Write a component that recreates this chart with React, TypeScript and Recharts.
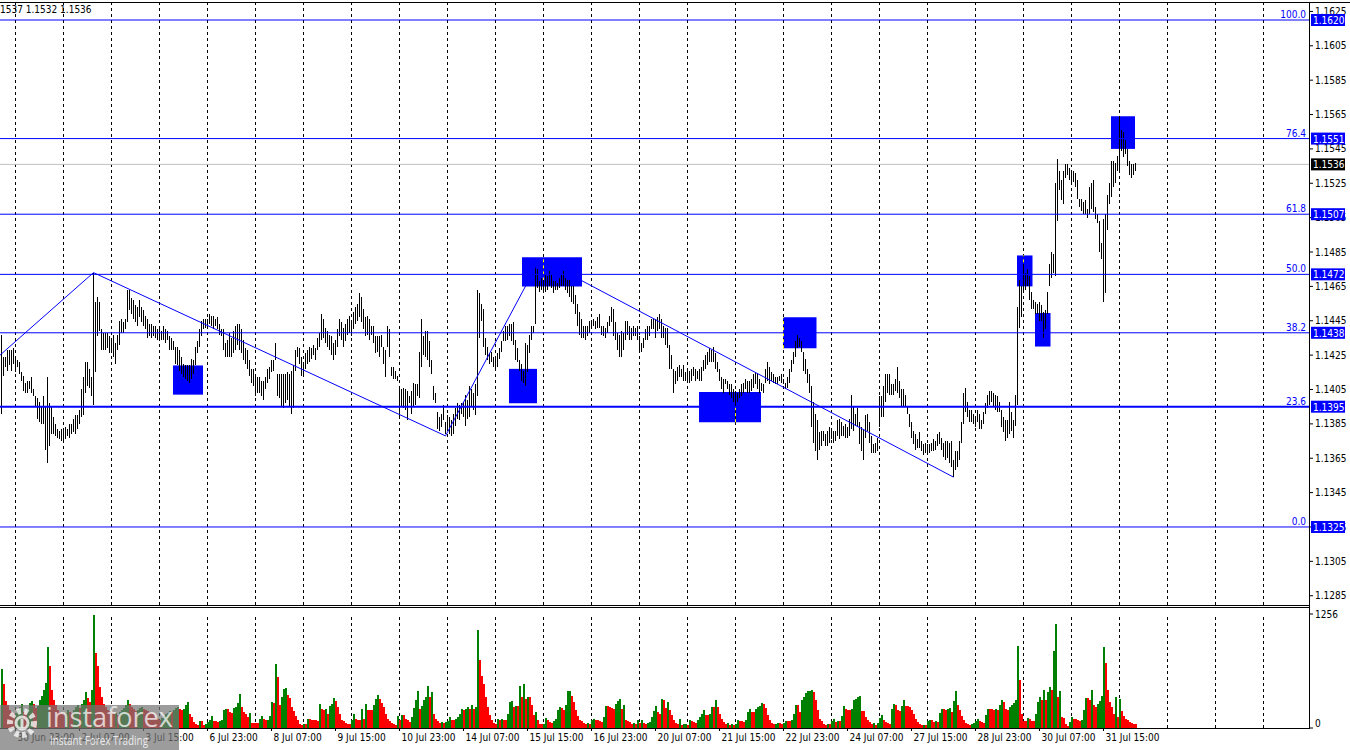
import React from 'react';
import { ComposedChart, Bar, XAxis, YAxis, ReferenceLine, ReferenceArea } from 'recharts';

const FONT = "'DejaVu Sans Condensed', 'DejaVu Sans', sans-serif";

// hourly bar highs
const highs = [
1.1437,1.1424,1.1424,1.1428,1.1428,1.1428,1.1429,1.1424,1.1422,1.1421,1.1415,1.1413,1.1409,1.1410,1.1410,1.1412,1.1405,1.1401,1.1400,1.1398,
1.1395,1.1401,1.1395,1.1412,1.1397,1.1395,1.1389,1.1385,1.1382,1.1381,1.1382,1.1381,1.1383,1.1382,1.1385,1.1385,1.1388,1.1390,1.1390,1.1393,
1.1405,1.1412,1.1421,1.1421,1.1417,1.1412,1.1473,1.1456,1.1459,1.1456,1.1440,1.1438,1.1438,1.1438,1.1436,1.1435,1.1437,1.1432,1.1437,1.1445,
1.1446,1.1444,1.1446,1.1463,1.1463,1.1458,1.1457,1.1454,1.1453,1.1457,1.1453,1.1451,1.1448,1.1446,1.1443,1.1443,1.1442,1.1442,1.1440,1.1442,
1.1439,1.1442,1.1440,1.1439,1.1436,1.1435,1.1433,1.1430,1.1430,1.1428,1.1424,1.1420,1.1419,1.1419,1.1419,1.1423,1.1422,1.1430,1.1433,1.1440,
1.1445,1.1446,1.1446,1.1446,1.1449,1.1448,1.1448,1.1446,1.1447,1.1443,1.1440,1.1440,1.1432,1.1434,1.1438,1.1435,1.1439,1.1442,1.1443,1.1443,
1.1440,1.1434,1.1429,1.1428,1.1422,1.1417,1.1417,1.1412,1.1412,1.1412,1.1410,1.1410,1.1412,1.1417,1.1418,1.1422,1.1422,1.1432,1.1414,1.1414,
1.1414,1.1414,1.1414,1.1415,1.1414,1.1416,1.1419,1.1428,1.1430,
1.1429,1.1424,1.1421,1.1426,1.1428,1.1430,1.1429,1.1431,1.1429,1.1435,
1.1438,1.1449,1.1446,1.1441,1.1439,1.1437,1.1436,1.1432,1.1434,1.1440,1.1446,1.1444,1.1441,1.1443,1.1446,1.1448,1.1445,1.1450,1.1453,1.1455,1.1461,1.1459,1.1452,1.1447,1.1448,1.1446,
1.1442,1.1442,1.1436,1.1436,1.1436,1.1437,1.1430,1.1428,1.1442,1.1440,1.1418,1.1418,1.1416,1.1413,1.1407,1.1405,1.1406,1.1405,1.1404,1.1401,
1.1404,1.1409,1.1408,1.1408,1.1427,1.1446,1.1436,1.1439,1.1439,1.1433,1.1422,1.1407,1.1403,1.1392,1.1389,1.1391,1.1396,1.1386,1.1390,1.1389,
1.1387,1.1391,1.1394,1.1397,1.1396,1.1397,1.1398,1.1402,1.1399,1.1407,1.1405,1.1403,1.1408,1.1463,1.1461,1.1455,1.1452,1.1435,1.1430,1.1426,
1.1427,1.1424,1.1423,1.1426,1.1429,1.1433,1.1439,1.1442,1.1442,1.1443,1.1443,1.1444,1.1434,1.1429,1.1422,1.1420,1.1416,1.1432,1.1431,1.1437,
1.1442,1.1442,1.1476,1.1475,1.1468,1.1470,1.1469,1.1472,1.1471,1.1474,1.1472,1.1468,1.1468,1.1467,1.1470,1.1472,1.1474,1.1470,1.1469,1.1469,
1.1465,1.1465,1.1460,1.1455,1.1450,1.1446,
1.1442,1.1442,1.1442,1.1445,1.1445,1.1446,1.1445,1.1447,1.1449,1.1442,1.1442,1.1441,1.1444,1.1448,1.1453,1.1452,1.1444,1.1438,1.1437,1.1439,
1.1438,1.1445,1.1445,1.1442,1.1441,1.1442,1.1441,1.1442,1.1436,1.1432,1.1435,1.1440,1.1442,1.1442,1.1446,1.1446,1.1446,1.1447,1.1449,1.1446,
1.1442,1.1441,1.1441,1.1431,1.1425,1.1417,1.1416,1.1418,1.1419,1.1417,1.1419,1.1415,1.1417,1.1416,1.1417,1.1418,1.1417,1.1416,1.1417,1.1418,
1.1422,1.1425,1.1427,1.1429,1.1428,1.1430,1.1426,1.1421,1.1417,1.1412,1.1411,1.1411,1.1410,1.1408,1.1408,1.1405,1.1404,1.1403,1.1405,1.1408,
1.1409,1.1411,1.1410,1.1410,1.1411,1.1414,1.1415,1.1414,1.1411,1.1409,1.1408,1.1417,1.1421,1.1418,1.1415,1.1414,1.1412,1.1412,1.1413,1.1414,
1.1411,1.1409,1.1412,1.1417,1.1422,1.1427,1.1433,1.1437,1.1435,1.1433,1.1427,1.1423,1.1417,1.1414,1.1407,1.1398,1.1391,1.1387,1.1380,1.1381,
1.1381,1.1379,1.1381,1.1383,1.1381,1.1381,1.1381,1.1387,1.1388,1.1386,1.1384,1.1385,1.1383,1.1388,1.1402,1.1395,1.1391,1.1394,1.1386,1.1383,
1.1382,1.1390,1.1391,1.1386,1.1378,1.1373,1.1374,1.1377,1.1401,1.1401,1.1407,1.1414,1.1414,1.1414,1.1408,1.1408,1.1411,1.1418,1.1410,1.1405,
1.1405,1.1402,1.1395,1.1391,1.1386,1.1381,1.1379,1.1376,1.1380,1.1375,1.1373,1.1374,1.1373,1.1373,1.1374,1.1376,1.1375,1.1379,1.1380,1.1377,
1.1374,1.1375,1.1375,1.1374,1.1375,1.1364,1.1369,1.1369,1.1375,
1.1386,1.1403,1.1406,1.1398,1.1393,1.1393,1.1391,1.1389,1.1393,1.1391,1.1387,1.1392,1.1397,1.1402,1.1404,1.1404,1.1403,1.1402,1.1401,1.1398,
1.1393,1.1389,1.1387,1.1387,1.1398,1.1392,1.1387,1.1402,1.1453,1.1469,1.1465,1.1478,1.1473,1.1475,1.1471,1.1462,1.1457,1.1456,1.1455,1.1456,
1.1454,1.1450,1.1451,1.1462,1.1478,1.1485,1.1484,1.1525,1.1539,1.1532,1.1527,1.1532,1.1536,1.1536,1.1534,1.1532,1.1532,1.1531,1.1527,1.1516,
1.1516,1.1514,1.1515,1.1510,1.1523,1.1525,1.1527,1.1511,1.1507,1.1503,1.1490,1.1504,1.1507,1.1518,1.1525,1.1538,1.1538,1.1537,1.1541,1.1564,
1.1556,1.1555,1.1550,1.1545,1.1538,1.1536,1.1536,1.1537
];

// hourly bar lows
const lows = [
1.1391,1.1413,1.1418,1.1416,1.1419,1.1416,1.1420,1.1415,1.1418,1.1414,1.1410,1.1404,1.1403,1.1403,1.1405,1.1403,1.1401,1.1395,1.1388,1.1386,
1.1385,1.1385,1.1370,1.1362,1.1372,1.1379,1.1379,1.1378,1.1377,1.1376,1.1375,1.1374,1.1376,1.1378,1.1377,1.1379,1.1380,1.1379,1.1382,1.1385,
1.1389,1.1390,1.1403,1.1407,1.1406,1.1401,1.1396,1.1415,1.1436,1.1439,1.1428,1.1428,1.1428,1.1429,1.1426,1.1428,1.1424,1.1420,1.1428,1.1431,
1.1438,1.1438,1.1440,1.1444,1.1451,1.1449,1.1446,1.1444,1.1442,1.1447,1.1444,1.1442,1.1440,1.1435,1.1436,1.1435,1.1436,1.1435,1.1434,1.1433,
1.1434,1.1434,1.1432,1.1434,1.1428,1.1428,1.1428,1.1420,1.1419,1.1416,1.1414,1.1412,1.1411,1.1410,1.1409,1.1411,1.1414,1.1419,1.1426,1.1430,
1.1436,1.1440,1.1441,1.1441,1.1443,1.1442,1.1440,1.1442,1.1440,1.1437,1.1436,1.1428,1.1424,1.1424,1.1424,1.1424,1.1426,1.1428,1.1431,1.1428,
1.1426,1.1422,1.1420,1.1417,1.1413,1.1409,1.1407,1.1401,1.1403,1.1403,1.1401,1.1399,1.1405,1.1409,1.1411,1.1415,1.1416,1.1422,1.1401,1.1400,
1.1395,1.1394,1.1397,1.1399,1.1395,1.1391,1.1394,1.1416,1.1424,
1.1420,1.1413,1.1414,1.1417,1.1420,1.1421,1.1423,1.1425,1.1422,1.1428,
1.1430,1.1434,1.1435,1.1432,1.1430,1.1428,1.1425,1.1422,1.1425,1.1430,1.1436,1.1434,1.1430,1.1433,1.1437,1.1438,1.1436,1.1440,1.1443,1.1445,1.1447,1.1444,1.1440,1.1436,1.1437,1.1434,
1.1437,1.1432,1.1426,1.1427,1.1424,1.1430,1.1420,1.1412,1.1430,1.1424,1.1413,1.1411,1.1411,1.1410,1.1389,1.1395,1.1394,1.1393,1.1387,1.1397,
1.1391,1.1395,1.1396,1.1401,1.1400,1.1418,1.1425,1.1424,1.1422,1.1418,1.1414,1.1399,1.1397,1.1382,1.1381,1.1383,1.1387,1.1379,1.1382,1.1379,
1.1378,1.1379,1.1384,1.1388,1.1387,1.1391,1.1389,1.1384,1.1388,1.1389,1.1395,1.1393,1.1390,1.1401,1.1435,1.1445,1.1430,1.1425,1.1422,1.1420,
1.1421,1.1418,1.1417,1.1418,1.1423,1.1427,1.1433,1.1433,1.1434,1.1436,1.1433,1.1431,1.1422,1.1421,1.1416,1.1410,1.1409,1.1407,1.1415,1.1426,
1.1434,1.1438,1.1443,1.1464,1.1462,1.1463,1.1463,1.1462,1.1463,1.1465,1.1464,1.1461,1.1463,1.1463,1.1464,1.1465,1.1465,1.1463,1.1461,1.1459,
1.1456,1.1455,1.1449,1.1442,1.1437,1.1435,
1.1435,1.1434,1.1436,1.1438,1.1440,1.1442,1.1440,1.1441,1.1441,1.1437,1.1436,1.1435,1.1438,1.1442,1.1444,1.1436,1.1434,1.1428,1.1424,1.1424,
1.1428,1.1434,1.1437,1.1434,1.1434,1.1436,1.1436,1.1434,1.1426,1.1427,1.1429,1.1434,1.1434,1.1436,1.1440,1.1440,1.1435,1.1439,1.1440,1.1435,
1.1435,1.1431,1.1429,1.1417,1.1417,1.1403,1.1408,1.1410,1.1412,1.1412,1.1410,1.1410,1.1410,1.1409,1.1410,1.1413,1.1410,1.1411,1.1410,1.1410,
1.1416,1.1417,1.1419,1.1421,1.1421,1.1421,1.1417,1.1415,1.1410,1.1405,1.1403,1.1408,1.1405,1.1402,1.1400,1.1398,1.1396,1.1398,1.1400,1.1401,
1.1403,1.1405,1.1403,1.1403,1.1404,1.1406,1.1408,1.1405,1.1403,1.1404,1.1403,1.1409,1.1410,1.1408,1.1410,1.1409,1.1408,1.1408,1.1410,1.1409,
1.1408,1.1405,1.1406,1.1409,1.1415,1.1420,1.1424,1.1429,1.1430,1.1427,1.1416,1.1414,1.1409,1.1403,1.1383,1.1374,1.1369,1.1364,1.1370,1.1372,
1.1375,1.1372,1.1372,1.1374,1.1376,1.1374,1.1375,1.1378,1.1376,1.1378,1.1378,1.1377,1.1377,1.1378,1.1382,1.1381,1.1384,1.1383,1.1373,1.1369,
1.1364,1.1377,1.1381,1.1374,1.1368,1.1368,1.1368,1.1369,1.1383,1.1389,1.1389,1.1398,1.1403,1.1402,1.1402,1.1402,1.1404,1.1403,1.1400,1.1395,
1.1395,1.1395,1.1391,1.1383,1.1377,1.1373,1.1370,1.1371,1.1371,1.1369,1.1367,1.1368,1.1368,1.1368,1.1369,1.1369,1.1370,1.1372,1.1373,1.1370,
1.1366,1.1364,1.1365,1.1362,1.1360,1.1354,1.1358,1.1360,1.1364,
1.1374,1.1385,1.1392,1.1389,1.1386,1.1386,1.1385,1.1383,1.1386,1.1382,1.1382,1.1385,1.1391,1.1394,1.1396,1.1398,1.1395,1.1393,1.1392,1.1392,
1.1383,1.1380,1.1375,1.1377,1.1379,1.1381,1.1377,1.1384,1.1396,1.1441,1.1447,1.1462,1.1463,1.1465,1.1457,1.1452,1.1452,1.1449,1.1449,1.1445,
1.1445,1.1435,1.1440,1.1449,1.1465,1.1470,1.1473,1.1471,1.1503,1.1521,1.1515,1.1513,1.1528,1.1530,1.1527,1.1526,1.1526,1.1523,1.1516,1.1511,
1.1509,1.1507,1.1507,1.1505,1.1507,1.1510,1.1508,1.1504,1.1502,1.1485,1.1481,1.1456,1.1461,1.1498,1.1513,1.1517,1.1523,1.1525,1.1532,1.1533,
1.1544,1.1540,1.1542,1.1535,1.1530,1.1528,1.1530,1.1532
];

// tick volumes per bar
const volumes = [
650,480,300,250,200,180,150,170,200,230,260,180,150,210,280,300,260,220,240,310,
350,420,500,887,686,420,303,250,200,180,160,150,170,200,180,160,200,230,250,220,
260,303,394,330,290,420,1245,821,686,449,339,266,230,200,190,170,150,160,140,180,
200,220,250,303,260,230,210,190,200,220,230,210,200,190,175,160,150,120,100,90,
110,130,150,170,190,175,200,220,230,210,193,212,248,285,157,120,66,47,29,74,
74,37,48,67,93,130,74,74,67,74,85,196,204,204,178,167,215,233,278,374,
233,178,152,122,167,56,56,56,56,104,130,96,85,93,130,289,270,707,559,252,
344,426,437,363,326,233,189,130,85,48,30,48,41,96,96,93,93,93,78,259,
212,193,212,157,237,266,332,300,230,157,84,77,55,40,40,84,150,102,91,84,
212,102,259,193,193,193,250,321,369,321,280,230,157,102,77,60,47,29,128,84,
139,139,102,84,66,120,223,303,405,212,237,303,339,467,339,402,157,102,77,55,
70,50,66,77,120,84,84,102,120,157,212,200,212,230,212,250,212,230,1077,748,
577,485,339,230,139,84,55,47,102,91,102,84,84,150,285,296,230,237,237,467,
339,485,321,339,339,250,139,180,84,47,40,47,113,91,66,55,80,102,193,230,
223,193,248,405,412,358,285,193,130,91,77,55,40,50,47,84,102,90,84,75,
66,120,237,237,230,223,212,266,296,321,212,248,84,77,66,47,55,40,91,55,
84,58,47,55,66,120,183,245,175,157,321,310,223,285,193,139,91,60,47,95,
29,40,47,29,84,77,66,58,84,120,157,193,139,139,157,230,230,314,230,157,
102,66,40,50,35,45,36,40,91,77,73,66,84,175,212,175,175,212,230,237,
274,259,223,139,90,55,40,47,60,50,47,55,77,77,77,84,157,248,248,175,
303,339,383,405,412,420,394,303,200,102,77,40,29,40,40,77,102,66,77,77,
128,237,212,201,193,212,303,321,339,358,186,186,120,84,66,40,50,35,55,113,
139,84,66,55,47,212,266,248,193,183,237,310,237,237,230,193,150,102,70,47,
29,35,29,77,84,84,66,77,66,164,212,212,193,212,223,175,296,412,248,193,
130,84,55,40,29,40,58,77,102,77,62,55,139,212,212,212,193,212,193,248,
310,285,212,200,230,250,280,310,905,533,157,77,77,113,102,77,77,157,285,339,
310,423,303,400,456,420,850,1150,347,412,120,113,47,20,66,120,102,102,84,77,
84,200,329,329,310,420,248,230,260,300,350,887,712,420,285,230,157,339,120,320,
190,128,102,84,70,60,47,40
];

const priceTicks = [1.1285, 1.1305, 1.1325, 1.1345, 1.1365, 1.1385, 1.1405, 1.1425, 1.1445, 1.1465, 1.1485, 1.1505, 1.1525, 1.1545, 1.1565, 1.1585, 1.1605, 1.1625];
const fibNames = ['0.0', '23.6', '38.2', '50.0', '61.8', '76.4', '100.0'];
const fibPrices = [1.1325, 1.1395, 1.1438, 1.1472, 1.1507, 1.1551, 1.1620];
const lastPrice = 1.1536;
const headerText = '1537 1.1532 1.1536';
const volMax = 1256;

const timeLabelIdx = [7, 39, 71, 103, 135, 167, 199, 231, 263, 295, 327, 359, 391, 423, 455, 487, 519, 551];
const timeLabels = ['30 Jun 23:00', '2 Jul 07:00', '3 Jul 15:00', '6 Jul 23:00', '8 Jul 07:00', '9 Jul 15:00', '10 Jul 23:00', '14 Jul 07:00', '15 Jul 15:00', '16 Jul 23:00', '20 Jul 07:00', '21 Jul 15:00', '22 Jul 23:00', '24 Jul 07:00', '27 Jul 15:00', '28 Jul 23:00', '30 Jul 07:00', '31 Jul 15:00'];

// blue zones (bar index range, price range)
const zoneStart = [85.75, 253.75, 260.25, 348.75, 390.75, 507.75, 516.75, 554.75];
const zoneEnd = [100.75, 267.75, 290.25, 379.75, 407.5, 515.5, 524.5, 566.75];
const zoneLow = [1.1402, 1.1397, 1.1465, 1.1386, 1.1429, 1.1465, 1.1430, 1.1545];
const zoneHigh = [1.1419, 1.1417, 1.1482, 1.14035, 1.1447, 1.1483, 1.14495, 1.1564];

// trend lines: [barIndex, price]
const trendFrom = [[-0.75, 1.1425], [46, 1.1473], [222, 1.1378], [289, 1.1469]];
const trendTo = [[46, 1.1473], [222, 1.1378], [267, 1.1476], [476, 1.1354]];

const X_DOMAIN = [-0.75, 653.75];
const Y_DOMAIN = [1.12796, 1.16299];
const W = 1350;
const AXIS_W = 41;
const PRICE_H = 608;
const VOL_H = 143;
const TIME_AXIS_H = 22;

const gridIdx = Array.from({ length: 27 }, (_, k) => 7 + 24 * k);

const data = highs.map((h, i) => ({
  i,
  range: [lows[i], h],
  vol: volumes[i],
  up: i === 0 || volumes[i] > volumes[i - 1],
}));

const yellowSegs: { x: number; lo: number; hi: number }[] = [];
zoneStart.forEach((s, z) => {
  gridIdx.forEach((g) => {
    if (g >= s && g <= zoneEnd[z]) yellowSegs.push({ x: g, lo: zoneLow[z], hi: zoneHigh[z] });
  });
});

const PriceBarShape = (props: any) => {
  const { x, y, width, height } = props;
  if (x == null || y == null) return null;
  const cx = Math.round(x + width / 2 - 0.5) + 0.5;
  const top = Math.min(y, y + height);
  const h = Math.max(Math.abs(height), 1);
  return <line x1={cx} x2={cx} y1={top} y2={top + h} stroke="#000" strokeWidth={1} shapeRendering="crispEdges" />;
};

const VolShape = (props: any) => {
  const { x, y, width, height, payload } = props;
  if (x == null || y == null) return null;
  const left = Math.floor(x + width / 2);
  const top = Math.min(y, y + height);
  return <rect x={left} y={top} width={2} height={Math.abs(height)} fill={payload.up ? '#008000' : '#ff0000'} shapeRendering="crispEdges" />;
};

const FibTag = (props: any) => {
  const { viewBox, name, price, boxFill } = props;
  if (!viewBox) return null;
  const right = viewBox.x + viewBox.width;
  const y = viewBox.y;
  return (
    <g>
      {name ? (
        <text x={right - 3} y={y - 2} textAnchor="end" fontSize={10} fontFamily={FONT} fill="#0000ff">{name}</text>
      ) : null}
      <rect x={right + 2} y={y - 6} width={34} height={12} fill={boxFill} />
      <text x={right + 4} y={y + 4} fontSize={10} fontFamily={FONT} fill="#ffffff">{price.toFixed(4)}</text>
    </g>
  );
};

const TimeTick = (props: any) => {
  const { x, y, payload } = props;
  const k = timeLabelIdx.indexOf(payload.value);
  if (k < 0) return null;
  return (
    <text x={x + 2} y={y} dy={8} fontSize={10} fontFamily={FONT} fill="#000" textAnchor="start">{timeLabels[k]}</text>
  );
};

const VolTick = (props: any) => {
  const { x, y, payload } = props;
  return (
    <text x={x} y={payload.value === 0 ? y - 5 : y} dy={3.5} fontSize={10} fontFamily={FONT} fill="#000" textAnchor="start">{payload.value}</text>
  );
};

const line = (style: React.CSSProperties) => <div style={{ position: 'absolute', background: '#000', ...style }} />;
const layer = (top: number, child: React.ReactNode) => (
  <div style={{ position: 'absolute', left: 0, top }}>{child}</div>
);

const priceMargin = { top: 3, right: 0, bottom: 3, left: 0 };
const priceMarginNoAxis = { top: 3, right: AXIS_W, bottom: 3, left: 0 };

export default function App() {
  // layer 1: price axis ticks, grid, zones
  const priceBase = (
    <ComposedChart width={W} height={PRICE_H} data={data} margin={priceMargin}>
      <XAxis dataKey="i" type="number" domain={X_DOMAIN} allowDataOverflow hide />
      <YAxis
        orientation="right"
        width={AXIS_W}
        type="number"
        domain={Y_DOMAIN}
        allowDataOverflow
        ticks={priceTicks}
        interval={0}
        tickSize={4}
        axisLine={false}
        tickLine={{ stroke: '#000' }}
        tick={{ fontSize: 10, fontFamily: FONT, fill: '#000' }}
        tickFormatter={(v: number) => v.toFixed(4)}
      />
      {gridIdx.map((g) => (
        <ReferenceLine key={'g' + g} x={g} stroke="#000" strokeDasharray="3 3" />
      ))}
      <ReferenceLine y={lastPrice} stroke="#c0c0c0" />
      {zoneStart.map((s, z) => (
        <ReferenceArea key={'z' + z} x1={s} x2={zoneEnd[z]} y1={zoneLow[z]} y2={zoneHigh[z]} fill="#0000ff" fillOpacity={1} stroke="none" />
      ))}
      {yellowSegs.map((s, k) => (
        <ReferenceLine key={'ys' + k} segment={[{ x: s.x, y: s.lo }, { x: s.x, y: s.hi }]} stroke="#ffff00" strokeDasharray="3 3" />
      ))}
    </ComposedChart>
  );

  // layer 2: OHLC bars
  const priceBars = (
    <ComposedChart width={W} height={PRICE_H} data={data} margin={priceMarginNoAxis}>
      <XAxis dataKey="i" type="number" domain={X_DOMAIN} allowDataOverflow hide />
      <YAxis type="number" domain={Y_DOMAIN} allowDataOverflow hide />
      <Bar dataKey="range" shape={PriceBarShape} barSize={1} isAnimationActive={false} />
    </ComposedChart>
  );

  // layer 3: fib levels, tags, trend lines
  const priceOver = (
    <ComposedChart width={W} height={PRICE_H} data={data} margin={priceMarginNoAxis}>
      <XAxis dataKey="i" type="number" domain={X_DOMAIN} allowDataOverflow hide />
      <YAxis type="number" domain={Y_DOMAIN} allowDataOverflow hide />
      <ReferenceLine y={lastPrice} stroke="none" label={<FibTag name="" price={lastPrice} boxFill="#000000" />} />
      {fibPrices.map((p, k) => (
        <ReferenceLine key={'f' + k} y={p} stroke="#0000ff" strokeWidth={k === 1 ? 2 : 1} label={<FibTag name={fibNames[k]} price={p} boxFill="#0000ff" />} />
      ))}
      {trendFrom.map((a, k) => (
        <ReferenceLine key={'t' + k} segment={[{ x: a[0], y: a[1] }, { x: trendTo[k][0], y: trendTo[k][1] }]} stroke="#0000ff" strokeWidth={1} ifOverflow="visible" />
      ))}
    </ComposedChart>
  );

  const volBase = (
    <ComposedChart width={W} height={VOL_H} data={data} margin={{ top: 7, right: 0, bottom: 0, left: 0 }}>
      <XAxis
        dataKey="i"
        type="number"
        domain={X_DOMAIN}
        allowDataOverflow
        ticks={timeLabelIdx}
        interval={0}
        height={TIME_AXIS_H}
        tickSize={3}
        axisLine={false}
        tickLine={{ stroke: '#000' }}
        tick={<TimeTick />}
      />
      <YAxis
        orientation="right"
        width={AXIS_W}
        type="number"
        domain={[0, volMax]}
        allowDataOverflow
        ticks={[0, volMax]}
        interval={0}
        tickSize={4}
        axisLine={false}
        tickLine={{ stroke: '#000' }}
        tick={<VolTick />}
      />
      {gridIdx.map((g) => (
        <ReferenceLine key={'vg' + g} x={g} stroke="#000" strokeDasharray="3 3" />
      ))}
    </ComposedChart>
  );

  const volBars = (
    <ComposedChart width={W} height={VOL_H} data={data} margin={{ top: 7, right: AXIS_W, bottom: TIME_AXIS_H, left: 0 }}>
      <XAxis dataKey="i" type="number" domain={X_DOMAIN} allowDataOverflow hide />
      <YAxis type="number" domain={[0, volMax]} allowDataOverflow hide />
      <Bar dataKey="vol" shape={VolShape} barSize={1} isAnimationActive={false} />
    </ComposedChart>
  );

  return (
    <div style={{ position: 'absolute', left: 0, top: 0, width: W, height: 750, background: '#fff', overflow: 'hidden', fontFamily: FONT }}>
      {layer(0, priceBase)}
      {layer(0, priceBars)}
      {layer(0, priceOver)}
      {layer(607, volBase)}
      {layer(607, volBars)}

      {line({ left: 0, top: 2, width: W, height: 1 })}
      {line({ left: 0, top: 605, width: 1310, height: 1 })}
      {line({ left: 0, top: 607, width: 1310, height: 1 })}
      {line({ left: 0, top: 728, width: 1310, height: 1 })}
      {line({ left: 1309, top: 2, width: 1, height: 727 })}

      <div style={{ position: 'absolute', left: 0, top: 4, fontSize: 10, lineHeight: '12px', color: '#000', fontFamily: FONT, whiteSpace: 'nowrap' }}>{headerText}</div>

      <svg style={{ position: 'absolute', left: 0, top: 705 }} width={179} height={45}>
        <rect x={0} y={0} width={179} height={45} fill="rgb(118,118,118)" fillOpacity={0.72} />
        <g transform="translate(22,18)">
          <circle r={12} fill="none" stroke="rgba(255,255,255,0.75)" strokeWidth={6} strokeDasharray="4 3.3" />
          <circle r={6} fill="none" stroke="rgba(255,255,255,0.75)" strokeWidth={3} />
          <rect x={-1.5} y={-4} width={3} height={9} fill="rgba(255,255,255,0.75)" />
        </g>
        <text x={46} y={22} fontSize={28} fontFamily="'Open Sans', sans-serif" fill="rgba(255,255,255,0.72)" textLength={127} lengthAdjust="spacingAndGlyphs">instaforex</text>
        <text x={50} y={40} fontSize={13} fontFamily="'Open Sans', sans-serif" fill="rgba(255,255,255,0.8)" textLength={98} lengthAdjust="spacingAndGlyphs">Instant Forex Trading</text>
      </svg>
    </div>
  );
}
